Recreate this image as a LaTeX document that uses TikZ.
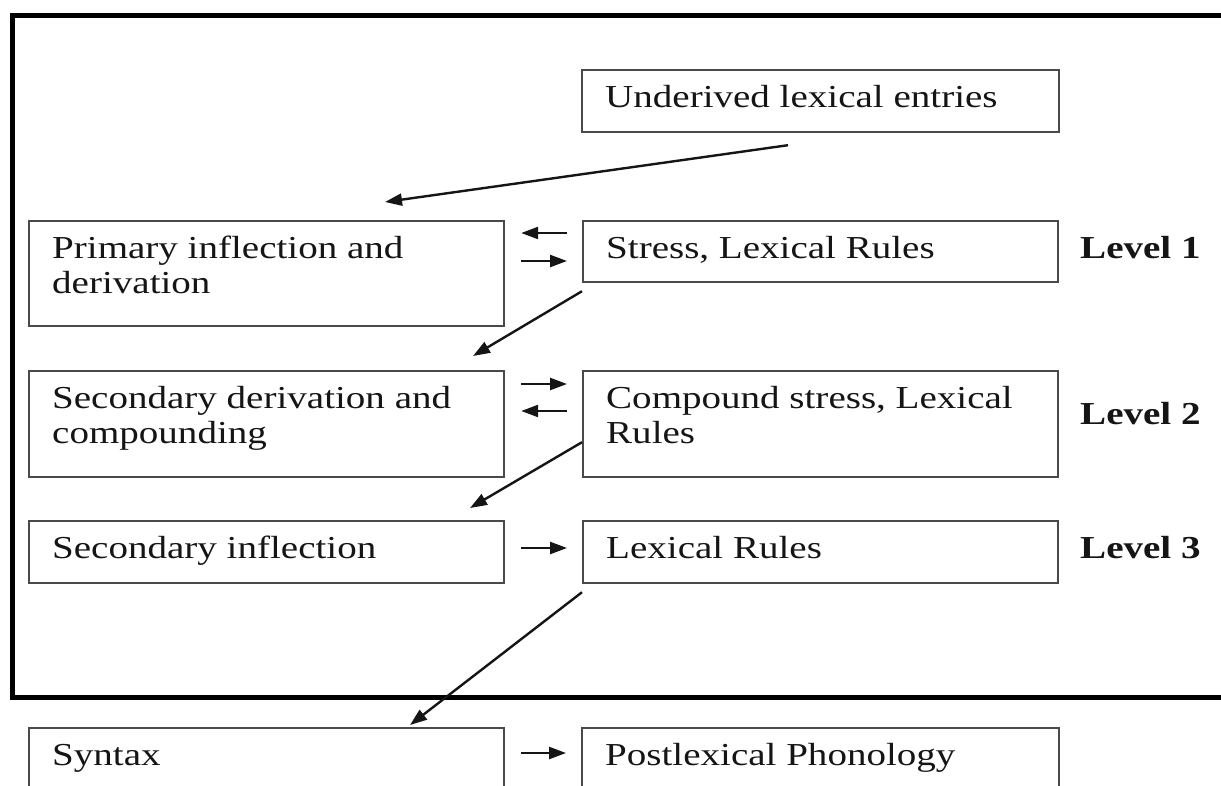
\documentclass[tikz,border=0pt]{standalone}
\usepackage{fontspec}
\setmainfont{Liberation Serif}[FakeStretch=1.22]
\usetikzlibrary{arrows.meta,calc}
\definecolor{boxgray}{HTML}{4A4A4A}
\definecolor{txt}{HTML}{151515}
\begin{document}
\begin{tikzpicture}[x=1pt,y=-1pt,
  box/.style={draw=boxgray, line width=2.2pt, inner sep=0pt, anchor=north west, fill=none},
  lbl/.style={anchor=north west, inner sep=0pt, align=left, text=txt, font=\fontsize{32}{35}\selectfont},
  lvl/.style={anchor=north west, inner sep=0pt, text=txt, font=\fontsize{32}{35}\selectfont\bfseries},
  arr/.style={draw=txt, line width=2.4pt, -{Triangle[length=17pt,width=12pt]}}]
\clip (0,0) rectangle (1221,785);
\fill[white] (0,0) rectangle (1221,785);
% outer frame
\draw[line width=5pt, black] (12,15) rectangle (1240,697);
% boxes
\node[box, minimum width=477pt, minimum height=62pt]  (und)    at (581,69)  {};
\node[box, minimum width=475pt, minimum height=105pt] (prim)   at (28,220)  {};
\node[box, minimum width=475pt, minimum height=61pt]  (stress) at (582,220) {};
\node[box, minimum width=475pt, minimum height=106pt] (sder)   at (28,370)  {};
\node[box, minimum width=475pt, minimum height=106pt] (comp)   at (582,370) {};
\node[box, minimum width=475pt, minimum height=62pt]  (sinf)   at (28,520)  {};
\node[box, minimum width=475pt, minimum height=62pt]  (lex)    at (582,520) {};
\node[box, minimum width=475pt, minimum height=100pt] (syn)    at (28,727)  {};
\node[box, minimum width=477pt, minimum height=100pt] (post)   at (581,727) {};
% texts (strut top = baseline - 24.5)
\node[lbl] (tund)    at (605,82.5)  {\strut Underived lexical entries};
\node[lbl] (tprim)   at (52,233.5)  {\strut Primary inflection and\\\strut derivation};
\node[lbl] (tstress) at (606,233.5) {\strut Stress, Lexical Rules};
\node[lbl] (tsder)   at (52,383.5)  {\strut Secondary derivation and\\\strut compounding};
\node[lbl] (tcomp)   at (606,383.5) {\strut Compound stress, Lexical\\\strut Rules};
\node[lbl] (tsinf)   at (52,533.5)  {\strut Secondary inflection};
\node[lbl] (tlex)    at (606,533.5) {\strut Lexical Rules};
\node[lbl] (tsyn)    at (52,740.5)  {\strut Syntax};
\node[lbl] (tpost)   at (605,740.5) {\strut Postlexical Phonology};
\node[lvl] (l1) at (1080,233.5) {\strut Level 1};
\node[lvl] (l2) at (1080,399.5) {\strut Level 2};
\node[lvl] (l3) at (1080,533.5) {\strut Level 3};
% horizontal arrows
\draw[arr] ($(stress.north west)+(-15,13)$) -- ($(prim.north east)+(16,13)$);
\draw[arr] ($(prim.north east)+(16,41)$) -- ($(stress.north west)+(-15,41)$);
\draw[arr] ($(sder.north east)+(16,14)$) -- ($(comp.north west)+(-15,14)$);
\draw[arr] ($(comp.north west)+(-15,41)$) -- ($(sder.north east)+(16,41)$);
\draw[arr] ($(sinf.north east)+(16,28)$) -- ($(lex.north west)+(-15,28)$);
\draw[arr] ($(syn.north east)+(16,26)$) -- ($(post.north west)+(-15,26)$);
% diagonal arrows
\draw[arr] ($(und.south west)+(207,12)$) -- ($(prim.north west)+(357,-18)$);
\draw[arr] ($(stress.south west)+(0,8)$) -- ($(sder.north west)+(445,-14)$);
\draw[arr] ($(comp.south west)+(0,-36)$) -- ($(sinf.north west)+(442,-12)$);
\draw[arr] ($(lex.south west)+(0,8)$) -- ($(syn.north west)+(382,-2)$);
\end{tikzpicture}
\end{document}
